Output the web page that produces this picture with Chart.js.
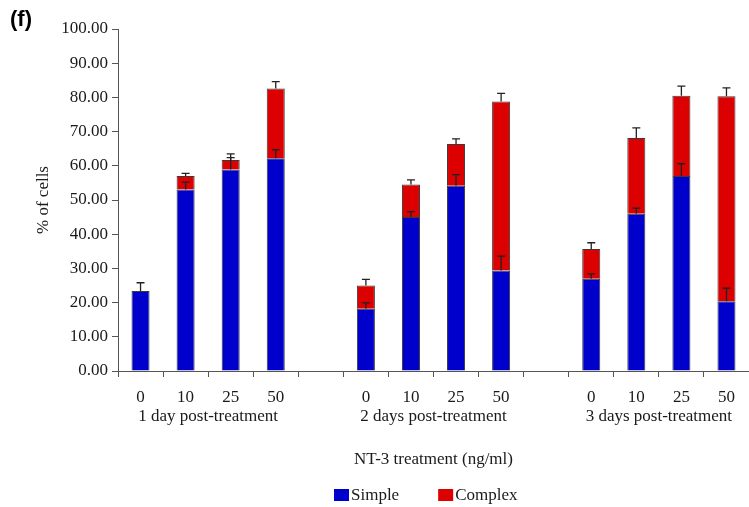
<!DOCTYPE html>
<html>
<head>
<meta charset="utf-8">
<script src="https://cdn.jsdelivr.net/npm/chart.js@4.4.0/dist/chart.umd.min.js"></script>
<style>
  html, body { margin: 0; padding: 0; background: #fff; }
  #wrap { width: 749px; height: 507px; position: relative; }
</style>
</head>
<body>
<div id="wrap"><canvas id="grafico"></canvas></div>
<script>
// categorias (dosis) con huecos entre grupos
let dosis = ['0', '10', '25', '50', '', '0', '10', '25', '50', '', '0', '10', '25', '50'];
let grupos = ['1 day post-treatment', '2 days post-treatment', '3 days post-treatment'];
let grupoInicio = [0, 5, 10];
let grupoFin = [3, 8, 13];

// % de celulas
let simple = [23.4, 53.1, 58.9, 62.2, null, 18.2, 45.0, 54.2, 29.4, null, 27.0, 46.0, 57.0, 20.4];
let complejo = [null, 3.9, 2.8, 20.4, null, 6.8, 9.5, 12.2, 49.4, null, 8.7, 22.1, 23.5, 59.9];
let errSimple = [2.4, 2.1, 3.5, 2.5, null, 1.7, 1.6, 3.2, 4.2, null, 1.4, 1.6, 3.6, 3.8];
let errComplejo = [null, 0.8, 1.8, 2.0, null, 1.8, 1.4, 1.5, 2.4, null, 1.8, 3.0, 2.8, 2.5];

const fuente = 'Liberation Serif, Times New Roman, serif';
const colorTexto = '#1a1a1a';
const colorEje = '#555';

// barras de error (solo hacia arriba), etiquetas de grupo y leyenda
const extras = {
    id: 'extras',
    afterDatasetsDraw(chart) {
        const ctx = chart.ctx;
        const y = chart.scales.y;
        ctx.save();
        ctx.strokeStyle = '#222';
        ctx.lineWidth = 1.3;
        // primero complejo, luego simple (las de simple quedan encima del rojo)
        [[1, errComplejo], [0, errSimple]].forEach(function (par) {
            const meta = chart.getDatasetMeta(par[0]);
            meta.data.forEach(function (barra, i) {
                const e = par[1][i];
                if (e == null) return;
                const tope = (simple[i] || 0) + (par[0] === 1 ? (complejo[i] || 0) : 0);
                const y0 = y.getPixelForValue(tope);
                const y1 = y.getPixelForValue(tope + e);
                ctx.beginPath();
                ctx.moveTo(barra.x, y0);
                ctx.lineTo(barra.x, y1);
                ctx.moveTo(barra.x - 4, y1);
                ctx.lineTo(barra.x + 4, y1);
                ctx.stroke();
            });
        });
        ctx.restore();
    },
    afterDraw(chart) {
        const ctx = chart.ctx;
        const x = chart.scales.x;
        ctx.save();
        ctx.fillStyle = colorTexto;
        ctx.font = '17px ' + fuente;
        ctx.textAlign = 'center';
        ctx.textBaseline = 'middle';
        grupos.forEach(function (g, k) {
            const cx = (x.getPixelForValue(grupoInicio[k]) + x.getPixelForValue(grupoFin[k])) / 2;
            ctx.fillText(g, cx, x.top + 46);
        });

        // leyenda
        ctx.textAlign = 'left';
        let lx = 334;
        const ly = 495;
        chart.data.datasets.forEach(function (d) {
            ctx.fillStyle = d.backgroundColor;
            ctx.fillRect(lx, ly - 6, 15, 12);
            ctx.fillStyle = colorTexto;
            ctx.fillText(d.label, lx + 17, ly + 1);
            lx += 17 + ctx.measureText(d.label).width + 39;
        });

        ctx.font = 'bold 22px Liberation Sans, Arial, sans-serif';
        ctx.fillStyle = '#000';
        ctx.fillText('(f)', 10, 20);
        ctx.restore();
    }
};

let grafico = new Chart(document.getElementById('grafico'), {
    type: 'bar',
    data: {
        labels: dosis,
        datasets: [
            {
                label: 'Simple',
                data: simple,
                backgroundColor: '#0000cc',
                borderColor: '#3a3a3a',
                borderWidth: 1,
                categoryPercentage: 1,
                barPercentage: 0.4,
            },
            {
                label: 'Complex',
                data: complejo,
                backgroundColor: '#dd0000',
                borderColor: '#3a3a3a',
                borderWidth: 1,
                categoryPercentage: 1,
                barPercentage: 0.4,
            },
        ],
    },
    options: {
        responsive: true,
        maintainAspectRatio: false,
        animation: false,
        layout: { padding: { top: 29, left: 0, right: 0, bottom: 0 } },
        scales: {
            x: {
                stacked: true,
                offset: true,
                grid: { offset: true, drawOnChartArea: false, drawTicks: true, tickLength: 6, color: colorEje },
                border: { display: true, color: colorEje, width: 1 },
                ticks: { color: colorTexto, font: { family: fuente, size: 17 }, padding: 10, maxRotation: 0, autoSkip: false },
                title: {
                    display: true,
                    text: 'NT-3 treatment (ng/ml)',
                    color: colorTexto,
                    font: { family: fuente, size: 17 },
                    padding: { top: 44, bottom: 37 },
                },
                afterFit(scale) { scale.height = 136; },
            },
            y: {
                stacked: true,
                min: 0,
                max: 100,
                grid: { drawOnChartArea: false, drawTicks: true, tickLength: 6, color: colorEje },
                border: { display: true, color: colorEje, width: 1 },
                ticks: {
                    stepSize: 10,
                    color: colorTexto,
                    font: { family: fuente, size: 17 },
                    padding: 4,
                    callback: function (v) { return v.toFixed(2); },
                },
                title: {
                    display: true,
                    text: '% of cells',
                    color: colorTexto,
                    font: { family: fuente, size: 17 },
                    padding: { top: 33, bottom: 0 },
                },
                afterFit(scale) { scale.width = 118; },
            },
        },
        plugins: {
            legend: { display: false },
            tooltip: { enabled: false },
        },
    },
    plugins: [extras],
});
</script>
</body>
</html>
